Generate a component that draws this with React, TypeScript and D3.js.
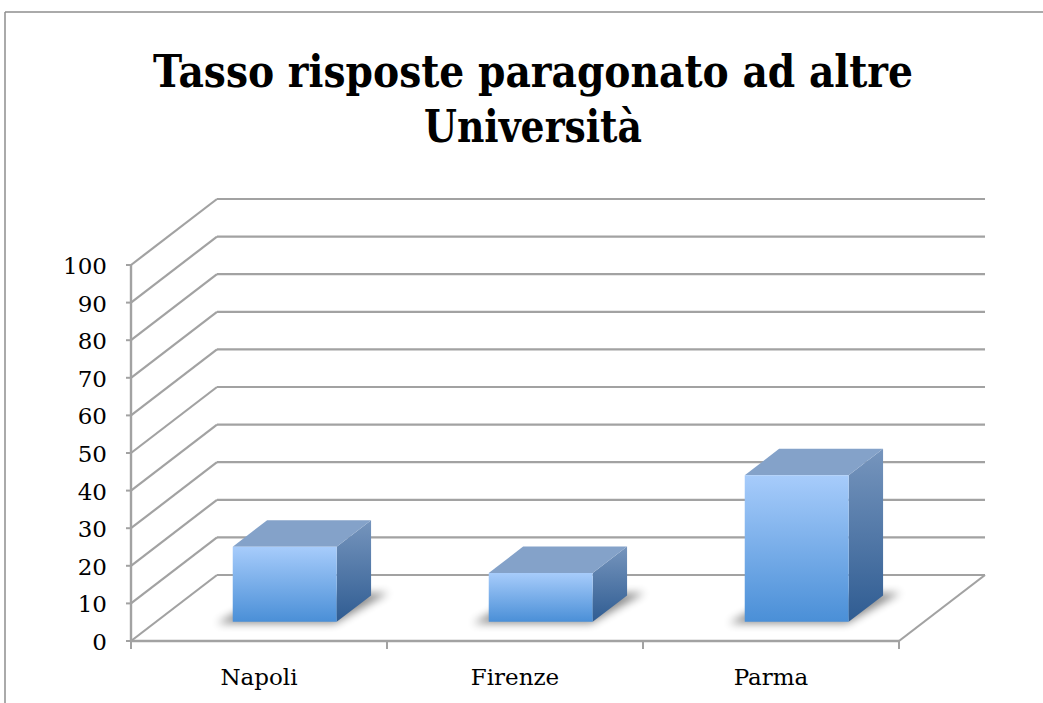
import React from "react";
import * as d3 from "d3";

// chart data
const categories = ["Napoli", "Firenze", "Parma"];
const values = [20, 13, 39];
const yTickValues = [0, 10, 20, 30, 40, 50, 60, 70, 80, 90, 100];
const titleLines = ["Tasso risposte paragonato ad altre", "Università"];

const W = 1043, H = 703;
// front plane of the plot
const left = 131, right = 899, bottom = 641, top = 265;
// full depth offset of the 3d box
const DX = 86, DY = -66;
// depth slice taken by the bars
const fFront = 0.29, fBack = 0.69;

const grid = "#a2a2a2";
const labelFont = "'DejaVu Serif', serif";

const x = d3.scaleBand<string>().domain(categories).range([left, right]);
const y = d3.scaleLinear().domain([0, 100]).range([bottom, top]);

const proj = (px: number, v: number, f: number): [number, number] => [px + f * DX, y(v) + f * DY];
const pts = (list: [number, number][]) => list.map(p => p.join(",")).join(" ");

export default function App() {
  const bw = x.bandwidth();

  return (
    <svg width={W} height={H} style={{ position: "absolute", left: 0, top: 0, background: "#fff" }}>
      <defs>
        <linearGradient id="front" x1="0" y1="0" x2="0" y2="1">
          <stop offset="0" stopColor="#a7ccfb" />
          <stop offset="1" stopColor="#4a8fd7" />
        </linearGradient>
        <linearGradient id="side" x1="0" y1="0" x2="0" y2="1">
          <stop offset="0" stopColor="#7695bd" />
          <stop offset="1" stopColor="#2f5c92" />
        </linearGradient>
        <filter id="blur" x="-20%" y="-50%" width="140%" height="200%">
          <feGaussianBlur stdDeviation="4" />
        </filter>
      </defs>

      {/* outer frame */}
      <line x1={5} y1={12} x2={W} y2={12} stroke="#8e8e8e" strokeWidth={1.5} />
      <line x1={5} y1={12} x2={5} y2={H} stroke="#8e8e8e" strokeWidth={1.5} />

      {/* title */}
      {titleLines.map((t, i) => (
        <text key={t} x={533} y={87 + i * 55} textAnchor="middle"
          fontFamily="'DejaVu Serif', serif" fontWeight="bold" fontSize={45}
          textLength={i === 0 ? 760 : 218} lengthAdjust="spacingAndGlyphs" fill="#000">{t}</text>
      ))}

      {/* back wall gridlines and left wall diagonals */}
      {yTickValues.map(v => {
        const [bx, by] = proj(left, v, 1);
        const [ex] = proj(right, v, 1);
        return (
          <g key={v}>
            <line x1={bx} y1={by} x2={ex} y2={by} stroke={grid} strokeWidth={2.2} />
            <line x1={left} y1={y(v)} x2={bx} y2={by} stroke={grid} strokeWidth={2.2} />
            <line x1={left - 5} y1={y(v)} x2={left} y2={y(v)} stroke={grid} strokeWidth={2} />
            <text x={107} y={y(v) + 9} textAnchor="end" fontFamily={labelFont} fontSize={23} fill="#000">{v}</text>
          </g>
        );
      })}

      {/* floor right edge */}
      <line x1={right} y1={bottom} x2={proj(right, 0, 1)[0]} y2={proj(right, 0, 1)[1]} stroke={grid} strokeWidth={2.2} />

      {/* axes */}
      <line x1={left} y1={bottom} x2={right} y2={bottom} stroke={grid} strokeWidth={2.4} />
      <line x1={left} y1={bottom} x2={left} y2={top} stroke={grid} strokeWidth={2.4} />
      {[...categories.map(c => x(c) as number), right].map((t, i) => (
        <line key={i} x1={t} y1={bottom} x2={t} y2={bottom + 8} stroke={grid} strokeWidth={2} />
      ))}
      {categories.map(c => (
        <text key={c} x={(x(c) as number) + bw / 2} y={685} textAnchor="middle"
          fontFamily={labelFont} fontSize={23} fill="#000">{c}</text>
      ))}

      {/* bars */}
      {categories.map((c, i) => {
        const v = values[i];
        const b0 = (x(c) as number) + bw * 0.3;
        const b1 = b0 + bw * 0.406;
        const shadow = [proj(b0 - 14, 0, fFront - 0.02), proj(b1, 0, fFront - 0.02), proj(b1 + 14, 0, fBack + 0.04), proj(b0, 0, fBack)];
        const front = [proj(b0, 0, fFront), proj(b1, 0, fFront), proj(b1, v, fFront), proj(b0, v, fFront)];
        const topFace = [proj(b0, v, fFront), proj(b1, v, fFront), proj(b1, v, fBack), proj(b0, v, fBack)];
        const side = [proj(b1, 0, fFront), proj(b1, 0, fBack), proj(b1, v, fBack), proj(b1, v, fFront)];
        return (
          <g key={c}>
            <polygon points={pts(shadow)} fill="#000" opacity={0.45} filter="url(#blur)" />
            <polygon points={pts(side)} fill="url(#side)" />
            <polygon points={pts(topFace)} fill="#84a2c9" />
            <polygon points={pts(front)} fill="url(#front)" />
          </g>
        );
      })}
    </svg>
  );
}
